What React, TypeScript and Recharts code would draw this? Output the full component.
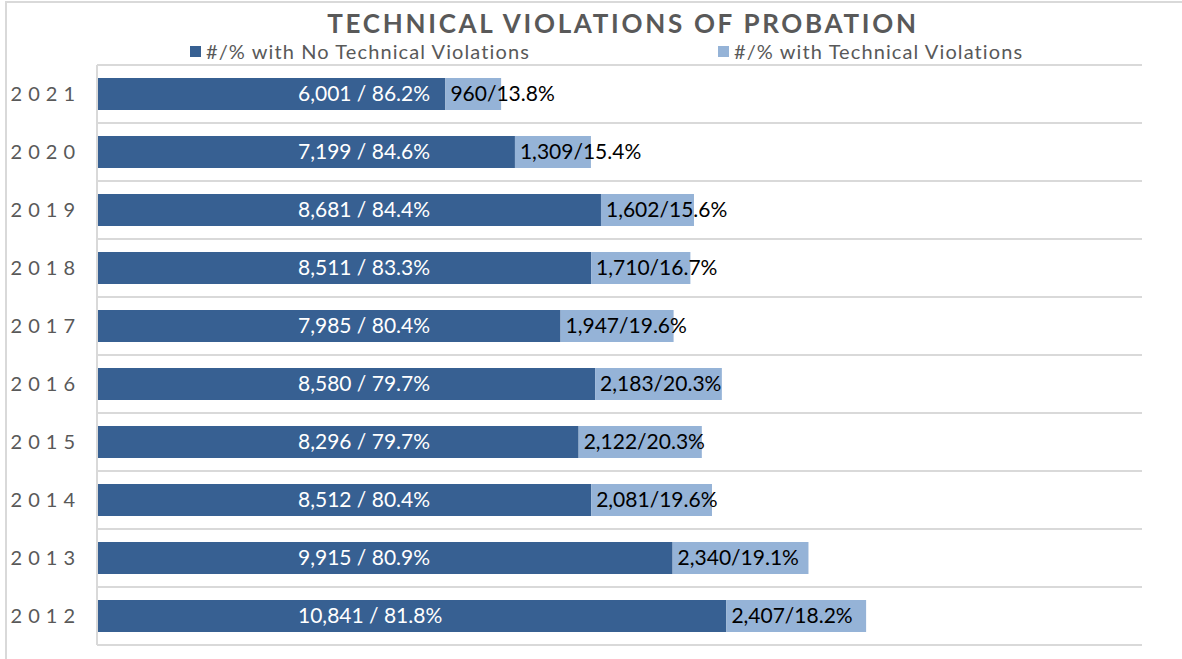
import React from "react";
import { Bar, BarChart, CartesianGrid, LabelList, XAxis, YAxis } from "recharts";

const years = ["2021", "2020", "2019", "2018", "2017", "2016", "2015", "2014", "2013", "2012"];
const noViolations = [6001, 7199, 8681, 8511, 7985, 8580, 8296, 8512, 9915, 10841];
const noViolationsPct = [86.2, 84.6, 84.4, 83.3, 80.4, 79.7, 79.7, 80.4, 80.9, 81.8];
const withViolations = [960, 1309, 1602, 1710, 1947, 2183, 2122, 2081, 2340, 2407];
const withViolationsPct = [13.8, 15.4, 15.6, 16.7, 19.6, 20.3, 20.3, 19.6, 19.1, 18.2];

const DARK = "#376092";
const LIGHT = "#95b3d7";
const GREY_TEXT = "#595959";
const GRID = "#d9d9d9";
const FONT = "Lato, 'Open Sans', sans-serif";

const fmt = (n: number) => n.toLocaleString("en-US");

const rows = years.map((year, i) => ({
  year,
  none: noViolations[i],
  tech: withViolations[i],
  noneLabel: `${fmt(noViolations[i])} / ${noViolationsPct[i].toFixed(1)}%`,
  techLabel: `${fmt(withViolations[i])}/${withViolationsPct[i].toFixed(1)}%`,
}));

// gridlines sit on category boundaries, not on the tick centres
const bandLines = ({ offset }: any) => {
  const out: number[] = [];
  for (let i = 0; i <= years.length; i++) {
    out.push(offset.top + (offset.height * i) / years.length);
  }
  return out;
};

const legendItem = { position: "absolute" as const, top: 38, display: "flex", alignItems: "center", fontSize: 20, letterSpacing: 1.1, color: GREY_TEXT, lineHeight: "26px" };

export default function App() {
  return (
    <div
      style={{
        position: "absolute",
        top: 0,
        left: 0,
        width: 1182,
        height: 659,
        background: "#fff",
        fontFamily: FONT,
        overflow: "hidden",
      }}
    >
      <div
        style={{
          position: "absolute",
          top: 1,
          left: 5,
          width: 1200,
          height: 700,
          borderTop: `2px solid ${GRID}`,
          borderLeft: `2px solid ${GRID}`,
        }}
      />
      <div
        style={{
          position: "absolute",
          top: 7,
          left: 0,
          width: 1246,
          textAlign: "center",
          fontSize: 26,
          fontWeight: 700,
          letterSpacing: 2.7,
          color: GREY_TEXT,
          lineHeight: "32px",
        }}
      >
        TECHNICAL VIOLATIONS OF PROBATION
      </div>
      <div style={{ ...legendItem, left: 190 }}>
        <span style={{ width: 11, height: 11, background: DARK, marginRight: 5, display: "inline-block" }} />
        #/% with No Technical Violations
      </div>
      <div style={{ ...legendItem, left: 718 }}>
        <span style={{ width: 11, height: 11, background: LIGHT, marginRight: 5, display: "inline-block" }} />
        #/% with Technical Violations
      </div>
      <div style={{ position: "absolute", top: 0, left: 0 }}>
        <BarChart
          width={1182}
          height={659}
          data={rows}
          layout="vertical"
          margin={{ top: 65, right: 40, bottom: 14, left: 0 }}
        >
          <CartesianGrid
            vertical={false}
            stroke={GRID}
            strokeWidth={2}
            horizontalCoordinatesGenerator={bandLines}
          />
          <XAxis type="number" hide domain={[0, 18000]} />
          <YAxis
            type="category"
            dataKey="year"
            width={97}
            tickLine={false}
            tickMargin={10}
            axisLine={{ stroke: GRID, strokeWidth: 2 }}
            tick={{ fill: GREY_TEXT, fontSize: 20, letterSpacing: 6, fontFamily: FONT }}
          />
          <Bar dataKey="none" stackId="a" fill={DARK} barSize={32} isAnimationActive={false}>
            <LabelList
              dataKey="noneLabel"
              position="insideLeft"
              offset={201}
              fill="#ffffff"
              fontSize={21}
              fontFamily={FONT}
            />
          </Bar>
          <Bar dataKey="tech" stackId="a" fill={LIGHT} barSize={32} isAnimationActive={false}>
            <LabelList
              dataKey="techLabel"
              position="insideLeft"
              offset={5}
              fill="#000000"
              fontSize={21}
              fontFamily={FONT}
            />
          </Bar>
        </BarChart>
      </div>
    </div>
  );
}
